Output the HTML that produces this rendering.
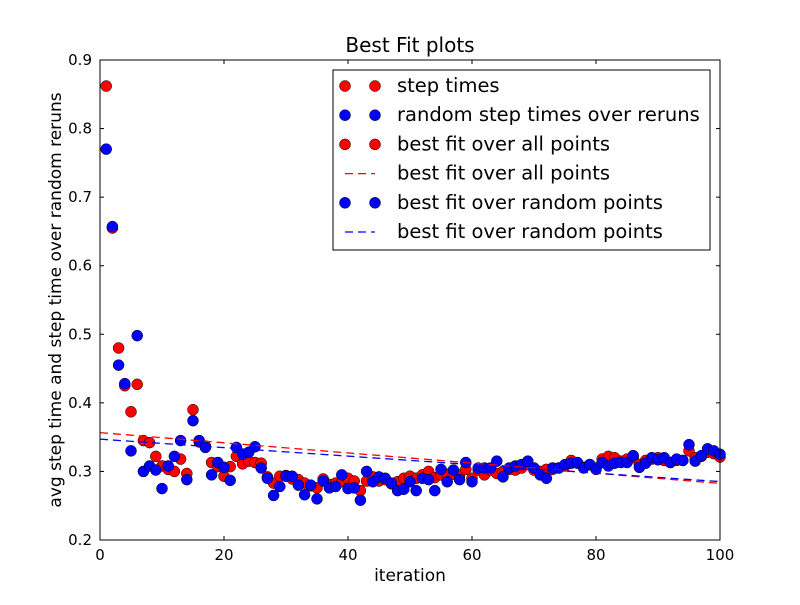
<!DOCTYPE html>
<html><head><meta charset="utf-8"><style>
body{margin:0;background:#fff}
svg text{font-family:"DejaVu Sans","Liberation Sans",sans-serif}
</style></head><body>
<svg id="chart" width="800" height="600" xmlns="http://www.w3.org/2000/svg">
<rect width="800" height="600" fill="#fff"/>
<text x="410" y="52" font-size="20" text-anchor="middle">Best Fit plots</text>
<text x="410" y="581" font-size="17" text-anchor="middle">iteration</text>
<text transform="translate(61,300) rotate(-90)" font-size="17" text-anchor="middle">avg step time and step time over random reruns</text>
<g id="ticks"></g>
<g id="marks"></g>
<rect x="100" y="60" width="620" height="480" fill="none" stroke="#000" stroke-width="1"/>
<g>
<rect x="333" y="70" width="377" height="180" fill="#fff" stroke="#000"/>
<g id="legend-items"></g>
</g>
</svg>
<script>
const iterations = Array.from({length:100},(_,i)=>i+1);
const stepTimes = [0.862,0.655,0.480,0.425,0.387,0.427,0.345,0.342,0.322,0.308,0.303,0.300,0.318,0.297,0.390,0.343,0.337,0.313,0.307,0.293,0.307,0.322,0.311,0.315,0.313,0.312,0.292,0.283,0.293,0.294,0.289,0.288,0.283,0.279,0.276,0.289,0.281,0.283,0.285,0.290,0.286,0.272,0.286,0.292,0.286,0.288,0.282,0.285,0.290,0.293,0.290,0.295,0.300,0.291,0.295,0.296,0.296,0.295,0.303,0.290,0.302,0.295,0.302,0.297,0.300,0.303,0.302,0.305,0.310,0.302,0.300,0.303,0.303,0.305,0.308,0.316,0.312,0.306,0.310,0.305,0.318,0.322,0.320,0.315,0.318,0.320,0.310,0.316,0.318,0.320,0.316,0.313,0.316,0.316,0.330,0.320,0.322,0.328,0.326,0.321];
const randomTimes = [0.770,0.657,0.455,0.428,0.330,0.498,0.300,0.308,0.302,0.275,0.308,0.322,0.345,0.288,0.374,0.345,0.335,0.295,0.313,0.306,0.287,0.335,0.325,0.328,0.336,0.305,0.290,0.265,0.278,0.293,0.293,0.280,0.266,0.280,0.260,0.286,0.276,0.278,0.295,0.275,0.276,0.258,0.300,0.285,0.292,0.290,0.283,0.272,0.274,0.285,0.272,0.290,0.288,0.272,0.303,0.285,0.302,0.288,0.313,0.285,0.305,0.305,0.305,0.315,0.292,0.305,0.308,0.310,0.315,0.305,0.295,0.290,0.305,0.305,0.310,0.312,0.313,0.305,0.310,0.303,0.313,0.308,0.312,0.313,0.313,0.323,0.306,0.312,0.320,0.317,0.320,0.313,0.318,0.316,0.339,0.315,0.323,0.333,0.330,0.325];
const xTicks = [0,20,40,60,80,100];
const yTicks = [0.2,0.3,0.4,0.5,0.6,0.7,0.8,0.9];
const legendLabels = ["step times","random step times over reruns","best fit over all points","best fit over all points","best fit over random points","best fit over random points"];

const NS="http://www.w3.org/2000/svg";
const X=v=>100+(v-0)/(100-0)*620;
const Y=v=>540-(v-0.2)/(0.9-0.2)*480;
function mk(tag,attrs,parent){const e=document.createElementNS(NS,tag);for(const k in attrs)e.setAttribute(k,attrs[k]);parent.appendChild(e);return e;}
const ticks=document.getElementById('ticks'), marks=document.getElementById('marks');
xTicks.forEach(t=>{
  const g=mk('g',{},ticks);
  
  
  mk('line',{x1:X(t),x2:X(t),y1:540,y2:536,stroke:'#000'},g);
  mk('line',{x1:X(t),x2:X(t),y1:60,y2:64,stroke:'#000'},g);
  const tx=mk('text',{x:X(t),y:560,'font-size':15,'text-anchor':'middle'},g);tx.textContent=t;
});
yTicks.forEach(t=>{
  const g=mk('g',{},ticks);
  
  
  mk('line',{x1:100,x2:104,y1:Y(t),y2:Y(t),stroke:'#000'},g);
  mk('line',{x1:720,x2:716,y1:Y(t),y2:Y(t),stroke:'#000'},g);
  const tx=mk('text',{x:92,y:Y(t)+5,'font-size':15,'text-anchor':'end'},g);tx.textContent=t.toFixed(1);
});
function fit(xs,ys){const n=xs.length;let sx=0,sy=0,sxx=0,sxy=0;for(let i=0;i<n;i++){sx+=xs[i];sy+=ys[i];sxx+=xs[i]*xs[i];sxy+=xs[i]*ys[i];}const m=(n*sxy-sx*sy)/(n*sxx-sx*sx);return [m,(sy-m*sx)/n];}
function pts(vals,color,name){
  const g=mk('g',{},marks);
  
  
  vals.forEach((v,i)=>{const c=mk('circle',{cx:X(iterations[i]),cy:Y(v),r:5.5,fill:color,stroke:'#000','stroke-width':0.5},g);
    
    });
}
pts(stepTimes,'#f00','step-times');
pts(randomTimes,'#00f','random-step-times');
function line(vals,color,name){
  const [m,b]=fit(iterations,vals);
  const l=mk('line',{x1:X(0),y1:Y(b),x2:X(100),y2:Y(m*100+b),stroke:color,'stroke-width':1.3,'stroke-dasharray':'8,5'},marks);
  
  
}
line(stepTimes,'#f00','fit-line-all');
line(randomTimes,'#00f','fit-line-random');
const li=document.getElementById('legend-items');
const lstyle=[['pt','#f00'],['pt','#00f'],['pt','#f00'],['ln','#f00'],['pt','#00f'],['ln','#00f']];
legendLabels.forEach((lab,i)=>{
  const y=86+i*29.2;
  const g=mk('g',{},li);
  
  
  const [t,c]=lstyle[i];
  if(t==='pt'){mk('circle',{cx:345,cy:y,r:5.5,fill:c,stroke:'#000','stroke-width':0.5},g);mk('circle',{cx:375,cy:y,r:5.5,fill:c,stroke:'#000','stroke-width':0.5},g);}
  else mk('line',{x1:345,x2:375,y1:y,y2:y,stroke:c,'stroke-width':1.3,'stroke-dasharray':'8,5'},g);
  const tx=mk('text',{x:397,y:y+6,'font-size':19.5},g);tx.textContent=lab;
});
</script>
</body></html>
